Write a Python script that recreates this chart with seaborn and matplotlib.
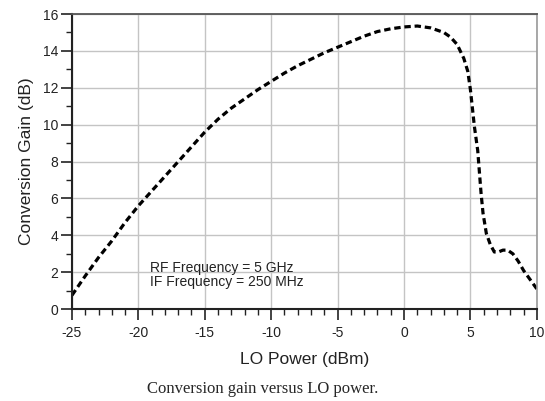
import matplotlib
matplotlib.use("Agg")
import matplotlib.pyplot as plt
import seaborn as sns
import pandas as pd
from matplotlib.ticker import MultipleLocator

sns.set_theme(style="white")
plt.rcParams['font.family'] = ['Liberation Sans', 'DejaVu Sans']
plt.rcParams['axes.unicode_minus'] = False

# LO power sweep (dBm) and measured conversion gain (dB)
lo_power = [-25, -24, -23, -22, -21, -20, -19, -18, -17, -16, -15, -14, -13,
            -12, -11, -10, -9, -8, -7, -6, -5, -4, -3, -2, -1, 0, 1, 2, 3,
            3.5, 4, 4.5, 4.8, 5.0, 5.3, 5.55, 5.8, 5.95, 6.2, 6.5, 6.8, 7.1,
            7.45, 7.8, 8.2, 8.6, 9.0, 9.5, 10]
gain = [0.75, 1.8, 2.8, 3.7, 4.7, 5.6, 6.4, 7.2, 8.0, 8.8, 9.6, 10.3, 10.9,
        11.4, 11.9, 12.35, 12.8, 13.2, 13.55, 13.9, 14.2, 14.5, 14.8, 15.05,
        15.2, 15.3, 15.35, 15.25, 15.0, 14.75, 14.35, 13.6, 12.9, 11.9, 9.9,
        8.6, 6.3, 5.2, 4.1, 3.5, 3.1, 3.1, 3.2, 3.2, 3.0, 2.6, 2.1, 1.6, 1.1]

df = pd.DataFrame({"lo": lo_power, "gain": gain})

fig = plt.figure(figsize=(5.45, 4.01), dpi=100)
ax = fig.add_axes([0.132, 0.229, 0.853, 0.736])

sns.lineplot(data=df, x="lo", y="gain", ax=ax, color="black", linewidth=2.3,
             dashes=False, sort=False)
ax.lines[0].set_dashes((2.0, 1.2))

ax.set_xlim(-25, 10)
ax.set_ylim(0, 16)
ax.xaxis.set_major_locator(MultipleLocator(5))
ax.xaxis.set_minor_locator(MultipleLocator(1))
ax.yaxis.set_major_locator(MultipleLocator(2))
ax.yaxis.set_minor_locator(MultipleLocator(1))
ax.grid(True, which="major", color="#c4c4c4", linewidth=1)
ax.tick_params(which="major", length=8, width=1.2, color="#222222",
               labelsize=10, direction="out", bottom=True, left=True,
               labelcolor="#222222")
ax.tick_params(which="minor", length=4, width=1.0, color="#222222",
               direction="out", bottom=True, left=True)
ax.tick_params(axis="x", pad=4)
ax.tick_params(axis="y", pad=2)

for side in ["left", "bottom"]:
    ax.spines[side].set_color("#222222")
    ax.spines[side].set_linewidth(1.5)
ax.spines["top"].set_color("#555555")
ax.spines["top"].set_linewidth(1.3)
ax.spines["right"].set_color("#999999")
ax.spines["right"].set_linewidth(1.2)

ax.set_xlabel("LO Power (dBm)", fontsize=12.5, labelpad=9, color="#222222")
ax.set_ylabel("Conversion Gain (dB)", fontsize=12.5, labelpad=6,
              color="#222222")

ax.text(-19.1, 1.85, "RF Frequency = 5 GHz\nIF Frequency = 250 MHz",
        fontsize=10, linespacing=0.95, va="center", color="#222222")

fig.text(0.482, 0.03, "Conversion gain versus LO power.",
         family=["Liberation Serif"], fontsize=12, ha="center", va="center")

fig.savefig("out.png", dpi=100)
